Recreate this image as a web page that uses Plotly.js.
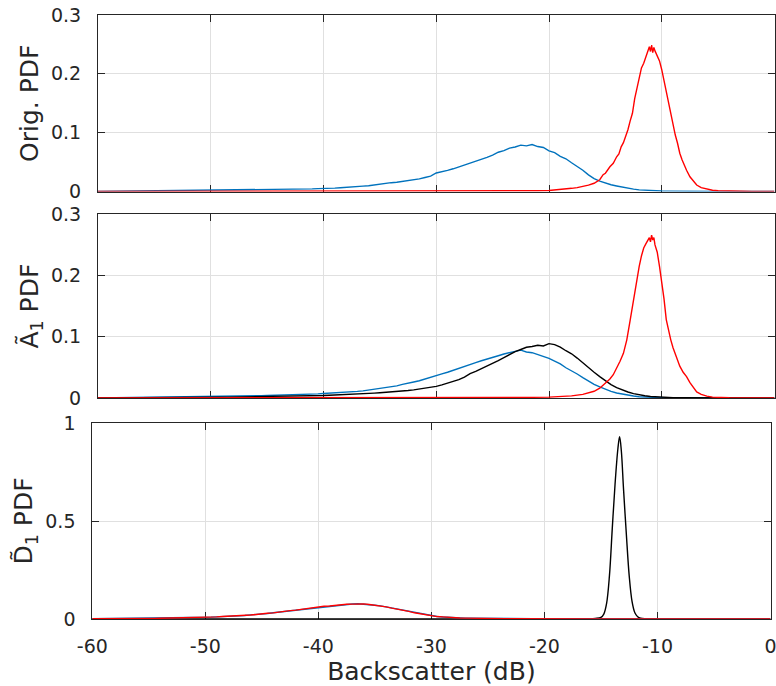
<!DOCTYPE html>
<html><head><meta charset="utf-8">
<script src="https://cdn.plot.ly/plotly-3.0.1.min.js"></script>
<style>html,body{margin:0;padding:0;background:#fff}#chart{width:776px;height:686px}</style>
</head><body><div id="chart"></div>
<script>
// x tick labels
const xTickVals = [-60, -50, -40, -30, -20, -10, 0];
const xTickText = ['-60', '-50', '-40', '-30', '-20', '-10', '0'];
const yTickValsA = [0, 0.1, 0.2, 0.3];
const yTickTextA = ['0', '0.1', '0.2', '0.3'];
const yTickValsD = [0, 0.5, 1];
const yTickTextD = ['0', '0.5', '1'];

// 0.5 dB bin centres from -60 to 0
const dB = [];
for (let i = 0; i <= 120; i++) dB.push(-60 + 0.5 * i);

// Panel 1 (Orig. PDF)
const blue1 = [
0.0002,0.0003,0.0002,0.0004,0.0003,0.0005,0.0004,0.0006,0.0005,0.0007,
0.0008,0.0007,0.0010,0.0009,0.0012,0.0011,0.0014,0.0013,0.0016,0.0015,
0.0018,0.0017,0.0021,0.0020,0.0024,0.0023,0.0027,0.0026,0.0030,0.0029,
0.0033,0.0032,0.0036,0.0035,0.0039,0.0041,0.0040,0.0045,0.0044,0.0049,
0.0048,0.0055,0.0058,0.0064,0.0068,0.0076,0.0081,0.0092,0.0099,0.0114,
0.0128,0.0136,0.0150,0.0158,0.0172,0.0181,0.0198,0.0214,0.0238,0.0262,
0.0315,0.0334,0.0358,0.0386,0.0418,0.0442,0.0476,0.0508,0.0542,0.0580,
0.0618,0.0668,0.0694,0.0738,0.0756,0.0788,0.0776,0.0798,0.0764,0.0748,
0.0690,0.0662,0.0598,0.0556,0.0488,0.0428,0.0362,0.0282,0.0218,0.0176,
0.0140,0.0114,0.0094,0.0072,0.0055,0.0040,0.0027,0.0020,0.0014,0.0010,
0.0008,0.0006,0.0004,0.0003,0.0003,0.0002,0.0002,0.0001,0.0001,0.0001,
0.0001,0,0,0,0,0,0,0,0,0,
0];
const red1X = [-60,-40,-30,-25,-22,-21,-20,-19,-18.5,-18,-17.5,-17,-16.5,-16,-15.5,-15.2,-15,-14.6,-14.3,-14,
-13.8,-13.6,-13.4,-13.2,-13,-12.8,-12.6,-12.4,-12.2,-12,-11.8,-11.6,-11.4,-11.2,-11.1,-11,-10.9,-10.8,-10.7,-10.6,
-10.4,-10.2,-10,-9.8,-9.6,-9.4,-9.2,-9,-8.8,-8.6,-8.4,-8.2,-8,-7.8,-7.5,-7.2,-6.9,-6.5,-6,-5.5,-5,-4,-2,0];
const red1 = [0,0.0001,0.0003,0.0006,0.0010,
0.0013,0.0017,0.0030,0.0042,0.0054,
0.0066,0.0082,0.0108,0.0140,0.0200,
0.0285,0.0310,0.0420,0.0480,0.0590,
0.0640,0.0760,0.0830,0.0940,0.1050,
0.1200,0.1330,0.1580,0.1760,0.1950,
0.2100,0.2180,0.2300,0.2420,0.2460,
0.2380,0.2490,0.2360,0.2450,0.2390,
0.2300,0.2220,0.2070,0.1880,0.1700,
0.1500,0.1320,0.1180,0.0960,0.0820,
0.0650,0.0540,0.0440,0.0360,0.0250,
0.0170,0.0110,0.0065,0.0040,0.0022,
0.0012,0.0005,0.0001,0];

// Panel 2 (A1 PDF)
const blue2 = [
0.0002,0.0003,0.0003,0.0004,0.0004,0.0005,0.0006,0.0006,0.0007,0.0008,
0.0009,0.0010,0.0011,0.0012,0.0013,0.0015,0.0016,0.0018,0.0019,0.0021,
0.0022,0.0024,0.0025,0.0027,0.0029,0.0031,0.0032,0.0035,0.0036,0.0039,
0.0041,0.0043,0.0046,0.0049,0.0051,0.0055,0.0058,0.0061,0.0065,0.0068,
0.0073,0.0077,0.0082,0.0088,0.0093,0.0101,0.0108,0.0116,0.0128,0.0139,
0.0152,0.0166,0.0181,0.0198,0.0222,0.0236,0.0262,0.0281,0.0312,0.0336,
0.0372,0.0394,0.0421,0.0450,0.0482,0.0515,0.0548,0.0578,0.0608,0.0632,
0.0668,0.0690,0.0718,0.0745,0.0762,0.0781,0.0752,0.0740,0.0712,0.0684,
0.0646,0.0602,0.0558,0.0494,0.0446,0.0392,0.0334,0.0276,0.0224,0.0180,
0.0140,0.0108,0.0082,0.0062,0.0046,0.0032,0.0021,0.0014,0.0010,0.0007,
0.0005,0.0004,0.0003,0.0002,0.0002,0.0001,0.0001,0.0001,0,0,
0,0,0,0,0,0,0,0,0,0,
0];
const black2 = [
0.0001,0.0001,0.0001,0.0002,0.0002,0.0002,0.0003,0.0003,0.0003,0.0004,
0.0004,0.0005,0.0005,0.0006,0.0006,0.0007,0.0008,0.0008,0.0009,0.0010,
0.0011,0.0012,0.0013,0.0014,0.0015,0.0016,0.0018,0.0019,0.0021,0.0022,
0.0024,0.0026,0.0028,0.0030,0.0032,0.0034,0.0035,0.0037,0.0039,0.0040,
0.0042,0.0046,0.0049,0.0053,0.0057,0.0061,0.0066,0.0070,0.0075,0.0080,
0.0086,0.0091,0.0098,0.0105,0.0113,0.0122,0.0132,0.0144,0.0158,0.0172,
0.0190,0.0214,0.0240,0.0268,0.0300,0.0340,0.0398,0.0436,0.0478,0.0532,
0.0570,0.0612,0.0660,0.0712,0.0758,0.0792,0.0828,0.0842,0.0862,0.0850,
0.0888,0.0872,0.0830,0.0772,0.0722,0.0652,0.0572,0.0492,0.0420,0.0350,
0.0280,0.0220,0.0170,0.0130,0.0098,0.0072,0.0052,0.0036,0.0025,0.0017,
0.0012,0.0008,0.0005,0.0003,0.0002,0.0002,0.0001,0.0001,0.0001,0,
0,0,0,0,0,0,0,0,0,0,
0];
const red2X = [-60,-30,-25,-22,-20,-19,-18,-17,-16.5,-16,-15.5,-15,-14.6,-14.3,-14,-13.7,-13.4,-13.1,-12.8,-12.6,
-12.4,-12.2,-12,-11.8,-11.6,-11.4,-11.2,-11.1,-11,-10.9,-10.8,-10.7,-10.6,-10.4,-10.2,-10,-9.8,-9.6,-9.4,-9.2,
-9,-8.7,-8.4,-8.1,-7.8,-7.5,-7.2,-6.9,-6.5,-6,-5.5,-5,-4,-2,0];
const red2 = [0,0.0002,0.0005,0.0010,0.0015,
0.0025,0.0035,0.0060,0.0085,0.0110,
0.0160,0.0240,0.0310,0.0380,0.0480,
0.0600,0.0730,0.0950,0.1270,0.1500,
0.1720,0.1950,0.2150,0.2320,0.2450,
0.2520,0.2580,0.2620,0.2550,0.2660,
0.2580,0.2620,0.2500,0.2380,0.2150,
0.1900,0.1620,0.1280,0.1100,0.0950,
0.0820,0.0670,0.0520,0.0420,0.0350,
0.0250,0.0170,0.0100,0.0060,0.0030,
0.0015,0.0008,0.0003,0.0001,0];

// Panel 3 (D1 PDF)
const black3X = [-60,-40,-20,-16,-15.5,-15,-14.75,-14.5,-14.25,-14,-13.75,-13.5,-13.35,-13.2,-13,-12.75,-12.5,-12.25,-12,-11.75,-11.5,-11,-10,0];
const black3 = [0,0.0005,0.0008,0.001,0.003,0.008,0.025,0.08,0.22,0.46,0.69,0.87,0.93,0.86,0.66,0.43,0.22,0.09,0.032,0.012,0.004,0.001,0,0];
const blue3 = [
0.0012,0.0016,0.0011,0.0017,0.0015,0.0020,0.0017,0.0023,0.0022,0.0027,
0.0030,0.0029,0.0037,0.0036,0.0045,0.0046,0.0056,0.0058,0.0070,0.0074,
0.0090,0.0094,0.0110,0.0118,0.0140,0.0148,0.0170,0.0182,0.0210,0.0224,
0.0250,0.0282,0.0320,0.0352,0.0390,0.0418,0.0460,0.0494,0.0540,0.0568,
0.0610,0.0640,0.0672,0.0690,0.0724,0.0748,0.0768,0.0780,0.0762,0.0746,
0.0702,0.0668,0.0612,0.0560,0.0500,0.0448,0.0380,0.0322,0.0260,0.0208,
0.0160,0.0128,0.0102,0.0080,0.0066,0.0054,0.0046,0.0038,0.0032,0.0028,
0.0024,0.0022,0.0019,0.0018,0.0016,0.0015,0.0014,0.0013,0.0012,0.0012,
0.0011,0.0010,0.0010,0.0009,0.0009,0.0009,0.0008,0.0008,0.0008,0.0007,
0.0007,0.0007,0.0006,0.0006,0.0006,0.0006,0.0005,0.0005,0.0005,0.0005,
0.0005,0.0004,0.0004,0.0004,0.0004,0.0004,0.0003,0.0003,0.0003,0.0003,
0.0003,0.0003,0.0003,0.0002,0.0002,0.0002,0.0002,0.0002,0.0002,0.0002,
0.0002];
const red3 = [
0.0014,0.0012,0.0017,0.0014,0.0019,0.0017,0.0022,0.0020,0.0025,0.0025,
0.0031,0.0032,0.0036,0.0040,0.0044,0.0050,0.0054,0.0063,0.0068,0.0078,
0.0086,0.0100,0.0106,0.0124,0.0134,0.0154,0.0164,0.0190,0.0202,0.0232,
0.0246,0.0290,0.0314,0.0360,0.0384,0.0426,0.0454,0.0500,0.0530,0.0576,
0.0600,0.0648,0.0664,0.0700,0.0716,0.0756,0.0760,0.0772,0.0770,0.0738,
0.0710,0.0660,0.0620,0.0552,0.0508,0.0440,0.0388,0.0316,0.0266,0.0202,
0.0166,0.0124,0.0106,0.0078,0.0068,0.0052,0.0047,0.0037,0.0033,0.0027,
0.0025,0.0021,0.0020,0.0017,0.0017,0.0014,0.0015,0.0012,0.0013,0.0011,
0.0012,0.0010,0.0011,0.0009,0.0010,0.0008,0.0009,0.0007,0.0008,0.0007,
0.0008,0.0006,0.0007,0.0006,0.0006,0.0005,0.0006,0.0005,0.0005,0.0004,
0.0005,0.0004,0.0004,0.0003,0.0004,0.0003,0.0004,0.0003,0.0003,0.0003,
0.0003,0.0002,0.0003,0.0002,0.0002,0.0002,0.0002,0.0002,0.0002,0.0001,
0.0002];

const BLUE = '#0072BD', RED = '#FF0000', BLACK = '#000000';
const FONT = 'DejaVu Sans, Arial, sans-serif';
const AX = '#262626';
const LW = 1.4;

function line(x, y, color, xa, ya, shape) {
  return {x: x, y: y, xaxis: xa, yaxis: ya, type: 'scatter', mode: 'lines',
          line: {color: color, width: LW, shape: shape || 'linear'}, hoverinfo: 'skip'};
}

const data = [
  line(dB, blue1, BLUE, 'x3', 'y3'),
  line(red1X, red1, RED, 'x3', 'y3'),
  line(dB, blue2, BLUE, 'x2', 'y2'),
  line(dB, black2, BLACK, 'x2', 'y2'),
  line(red2X, red2, RED, 'x2', 'y2'),
  line(black3X, black3, BLACK, 'x', 'y', 'spline'),
  line(dB, blue3, BLUE, 'x', 'y'),
  line(dB, red3, RED, 'x', 'y')
];

function xAxis(domain, anchor, labels) {
  return {domain: domain, anchor: anchor, range: [-60, 0], tickmode: 'array',
    tickvals: xTickVals, ticktext: xTickText, showticklabels: labels,
    ticks: 'inside', ticklen: 7, tickwidth: 1, tickcolor: AX,
    showline: true, linecolor: AX, linewidth: 1, mirror: 'ticks',
    showgrid: true, gridcolor: '#e0e0e0', gridwidth: 1, zeroline: false,
    layer: 'below traces', fixedrange: true, ticklabeloverflow: 'allow',
    ticklabelstandoff: 10,
    tickfont: {family: FONT, size: 19, color: AX}};
}
function yAxis(domain, anchor, vals, texts, range, title) {
  return {domain: domain, anchor: anchor, range: range, tickmode: 'array',
    tickvals: vals, ticktext: texts,
    ticks: 'inside', ticklen: 7, tickwidth: 1, tickcolor: AX,
    showline: true, linecolor: AX, linewidth: 1, mirror: 'ticks',
    showgrid: true, gridcolor: '#e0e0e0', gridwidth: 1, zeroline: false,
    layer: 'below traces', fixedrange: true, ticklabeloverflow: 'allow',
    ticklabelstandoff: 12,
    tickfont: {family: FONT, size: 19, color: AX},
    title: {text: title, font: {family: FONT, size: 25, color: AX}}};
}

const W = 776, H = 686;
const topX = [98 / W, 774.5 / W];
const botX = [92.3 / W, 770.5 / W];

const xa1 = xAxis(botX, 'y', true);
xa1.title = {text: 'Backscatter (dB)', font: {family: FONT, size: 25, color: AX}, standoff: 4};

const layout = {
  width: W, height: H,
  margin: {l: 0, r: 0, t: 0, b: 0, pad: 0},
  paper_bgcolor: '#ffffff', plot_bgcolor: '#ffffff',
  showlegend: false, hovermode: false,
  font: {family: FONT, color: AX},
  xaxis: xa1,
  xaxis2: xAxis(topX, 'y2', false),
  xaxis3: xAxis(topX, 'y3', false),
  yaxis: yAxis([1 - 619 / H, 1 - 423 / H], 'x', yTickValsD, yTickTextD, [0, 1], 'D\u0303<sub>1</sub> PDF'),
  yaxis2: yAxis([1 - 398 / H, 1 - 214.3 / H], 'x2', yTickValsA, yTickTextA, [0, 0.3], '\u00C3<sub>1</sub> PDF'),
  yaxis3: yAxis([1 - 191.5 / H, 1 - 15 / H], 'x3', yTickValsA, yTickTextA, [0, 0.3], 'Orig. PDF')
};

Plotly.newPlot('chart', data, layout, {displayModeBar: false, staticPlot: true});
</script></body></html>
